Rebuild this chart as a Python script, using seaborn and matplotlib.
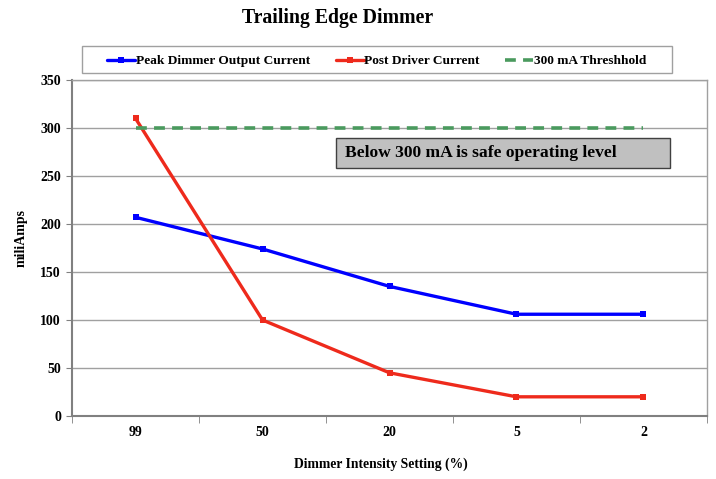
import pandas as pd
import matplotlib.pyplot as plt
import seaborn as sns
from matplotlib.ticker import FixedLocator
from matplotlib.patches import Rectangle

# values
settings = ['99', '50', '20', '5', '2']
peak_dimmer = [207, 174, 135, 106, 106]
post_driver = [310, 100, 45, 20, 20]
threshold = [300, 300, 300, 300, 300]

df = pd.DataFrame({
    'Setting': settings * 3,
    'mA': peak_dimmer + post_driver + threshold,
    'Series': ['Peak Dimmer Output Current'] * 5 + ['Post Driver Current'] * 5
              + ['300 mA Threshhold'] * 5,
})

sns.set_style('white')
plt.rcParams['font.family'] = ['Liberation Serif', 'DejaVu Serif']
plt.rcParams['font.weight'] = 'bold'
plt.rcParams['text.color'] = 'black'
plt.rcParams['axes.labelcolor'] = 'black'
plt.rcParams['xtick.labelcolor'] = 'black'
plt.rcParams['ytick.labelcolor'] = 'black'

fig = plt.figure(figsize=(7.16, 4.79), dpi=100)
ax = fig.add_axes([0.1006, 0.1315, 0.8868, 0.7015])

colors = {'Peak Dimmer Output Current': '#0000ff',
          'Post Driver Current': '#ee2a1c',
          '300 mA Threshhold': '#4a9a5e'}

sns.lineplot(data=df[df['Series'] == 'Peak Dimmer Output Current'], x='Setting', y='mA',
             color=colors['Peak Dimmer Output Current'], marker='s', markersize=5,
             markeredgewidth=0, linewidth=2.4, ax=ax, label='Peak Dimmer Output Current', sort=False)
sns.lineplot(data=df[df['Series'] == 'Post Driver Current'], x='Setting', y='mA',
             color=colors['Post Driver Current'], marker='s', markersize=5,
             markeredgewidth=0, linewidth=2.4, ax=ax, label='Post Driver Current', sort=False)
sns.lineplot(data=df[df['Series'] == '300 mA Threshhold'], x='Setting', y='mA',
             color=colors['300 mA Threshhold'], linestyle=(0, (3, 2)),
             linewidth=2.6, ax=ax, label='300 mA Threshhold', sort=False)

ax.set_xlim(-0.5, 4.5)
ax.set_ylim(0, 350)
ax.set_yticks(range(0, 351, 50))
ax.yaxis.grid(True, color='#a0a0a0', linewidth=1)
ax.set_axisbelow(True)
ax.xaxis.set_minor_locator(FixedLocator([-0.5, 0.5, 1.5, 2.5, 3.5, 4.5]))
ax.tick_params(axis='x', which='major', length=0, pad=7, labelsize=10)
ax.tick_params(axis='x', which='minor', length=5, color='#808080', direction='out', bottom=True)
ax.tick_params(axis='y', length=4, color='#808080', direction='out', left=True, labelsize=10, pad=4)

for s in ['left', 'bottom']:
    ax.spines[s].set_color('#808080')
    ax.spines[s].set_linewidth(1.5)
for s in ['top', 'right']:
    ax.spines[s].set_color('#a0a0a0')
    ax.spines[s].set_linewidth(1)

ax.set_xlabel('Dimmer Intensity Setting (%)', fontsize=9.8, fontweight='bold')
ax.xaxis.set_label_coords(0.487, -0.125)
ax.set_ylabel('miliAmps', fontsize=10, fontweight='bold')
ax.yaxis.set_label_coords(-0.07, 0.53)

fig.text(0.471, 0.962, 'Trailing Edge Dimmer', ha='center', va='center', fontsize=14.2, fontweight='bold')

# annotation box
ax.add_patch(Rectangle((0.4157, 258.3 / 350), 0.526, 31.3 / 350, transform=ax.transAxes,
                       facecolor='#c0c0c0', edgecolor='#404040', linewidth=1, zorder=3))
ax.text(0.4299, 274, 'Below 300 mA is safe operating level', fontsize=12.6, fontweight='bold',
        va='center', ha='left', transform=ax.get_yaxis_transform(), zorder=4)

leg = ax.legend(loc='center', bbox_to_anchor=(0.48, 1.0565), ncol=3, frameon=False,
                fontsize=9.6, handlelength=2.1, handletextpad=0.05, columnspacing=1.9)
fig.patches.append(Rectangle((82 / 716, 1 - 73 / 479), 590 / 716, 27 / 479,
                             transform=fig.transFigure, facecolor='none',
                             edgecolor='#a0a0a0', linewidth=1))

fig.savefig('out.png', dpi=100)
